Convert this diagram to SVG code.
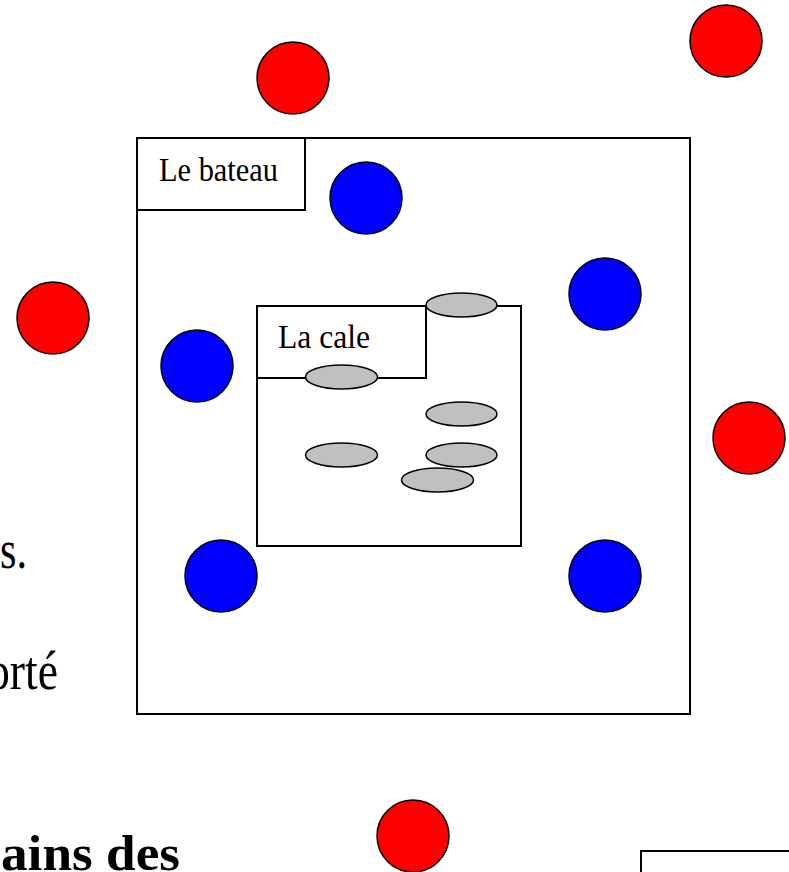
<svg xmlns="http://www.w3.org/2000/svg" width="789" height="872" viewBox="0 0 789 872">
  <style>
    .box { fill: #ffffff; stroke: #000000; stroke-width: 2; }
    .red { fill: #ff0000; stroke: #000000; stroke-width: 1.5; }
    .blue { fill: #0000ff; stroke: #000000; stroke-width: 1.5; }
    .grain { fill: #c0c0c0; stroke: #000000; stroke-width: 1.5; }
    .label { font-family: "Liberation Serif", "Times New Roman", serif; font-size: 33px; fill: #000000; }
    .body { font-family: "Liberation Serif", "Times New Roman", serif; font-size: 54px; fill: #000000; }
    .bold { font-family: "Liberation Serif", "Times New Roman", serif; font-size: 50px; font-weight: bold; fill: #000000; }
  </style>
  <rect x="0" y="0" width="789" height="872" fill="#ffffff"/>

  <!-- page text fragments at the left margin -->
  <g id="page-text">
    <text class="body" x="0" y="568" textLength="27" lengthAdjust="spacingAndGlyphs">s.</text>
    <text class="body" x="-13" y="689" textLength="71" lengthAdjust="spacingAndGlyphs">orté</text>
    <text class="bold" x="1" y="870" textLength="179" lengthAdjust="spacingAndGlyphs">ains des</text>
  </g>

  <!-- the boat -->
  <g id="bateau">
    <rect class="box" x="137" y="138" width="553" height="576"/>
    <rect class="box" x="137" y="138" width="168" height="72"/>
    <text class="label" x="159" y="181" textLength="119" lengthAdjust="spacingAndGlyphs">Le bateau</text>
  </g>

  <!-- the hold -->
  <g id="cale">
    <rect class="box" x="257" y="306" width="264" height="240"/>
    <rect class="box" x="257" y="306" width="169" height="72"/>
    <text class="label" x="278" y="348" textLength="92" lengthAdjust="spacingAndGlyphs">La cale</text>
  </g>

  <!-- grey ellipses in the hold -->
  <g id="grains">
    <ellipse class="grain" cx="461.5" cy="305" rx="35.5" ry="12"/>
    <ellipse class="grain" cx="341.5" cy="377" rx="36" ry="12"/>
    <ellipse class="grain" cx="461.5" cy="414" rx="35.5" ry="12"/>
    <ellipse class="grain" cx="341.5" cy="455" rx="36" ry="12"/>
    <ellipse class="grain" cx="461.5" cy="455" rx="35.5" ry="12"/>
    <ellipse class="grain" cx="437.5" cy="480" rx="36" ry="12"/>
  </g>

  <!-- blue discs on board -->
  <g id="bleus">
    <circle class="blue" cx="366" cy="198" r="36"/>
    <circle class="blue" cx="605" cy="294" r="36"/>
    <circle class="blue" cx="197" cy="366" r="36"/>
    <circle class="blue" cx="221" cy="576" r="36"/>
    <circle class="blue" cx="605" cy="576" r="36"/>
  </g>

  <!-- red discs outside -->
  <g id="rouges">
    <circle class="red" cx="293" cy="78" r="36"/>
    <circle class="red" cx="726" cy="41" r="36"/>
    <circle class="red" cx="53" cy="318" r="36"/>
    <circle class="red" cx="749" cy="438" r="36"/>
    <circle class="red" cx="413" cy="836" r="36"/>
  </g>

  <!-- box at the lower right edge -->
  <g id="cadre-bas">
    <rect class="box" x="641" y="851" width="200" height="100"/>
  </g>
</svg>
